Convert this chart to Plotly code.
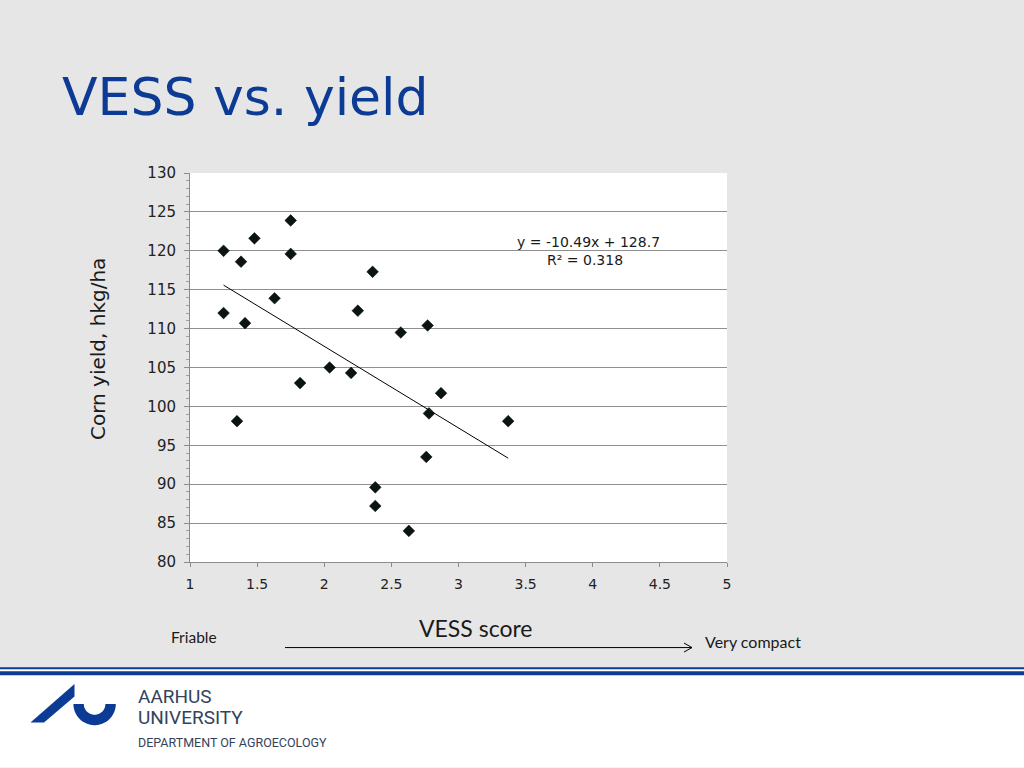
import numpy as np
import plotly.graph_objects as go

# ---- data ----
vess_score = [1.25, 1.25, 1.38, 1.48, 1.41, 1.35, 1.75, 1.75, 1.63, 1.82, 2.04, 2.20,
              2.25, 2.36, 2.38, 2.38, 2.57, 2.63, 2.77, 2.76, 2.78, 2.87, 3.37]
corn_yield = [120.0, 112.0, 118.6, 121.6, 110.7, 98.1, 123.9, 119.6, 113.9, 103.0, 105.0, 104.3,
              112.3, 117.3, 89.6, 87.2, 109.5, 84.0, 110.4, 93.5, 99.1, 101.7, 98.1]
trend_slope = -10.49
trend_intercept = 128.7
trend_r2 = 0.318
x_ticks = [1, 1.5, 2, 2.5, 3, 3.5, 4, 4.5, 5]
y_ticks = [80, 85, 90, 95, 100, 105, 110, 115, 120, 125, 130]

# ---- pixel -> paper helpers for slide decorations ----
L, R, T, B = 190, 727, 172.7, 562.3
def px(x):
    return (x - L) / (R - L)
def py(y):
    return (B - y) / (B - T)

BLUE = "#0b3b95"
BG = "#e6e6e6"

fig = go.Figure()

# trendline
tx = np.array([min(vess_score), max(vess_score)])
fig.add_trace(go.Scatter(x=tx, y=trend_slope * tx + trend_intercept, mode="lines",
                         line=dict(color="black", width=1), hoverinfo="skip", showlegend=False))
# points
fig.add_trace(go.Scatter(x=vess_score, y=corn_yield, mode="markers",
                         marker=dict(symbol="diamond", size=9, color="#0a1414",
                                     line=dict(color="#000000", width=0.5)),
                         showlegend=False))

shapes = []
# white lower band + blue rules
shapes.append(dict(type="rect", xref="paper", yref="paper", x0=px(0), x1=px(1024),
                   y0=py(768), y1=py(669.5), fillcolor="white", line=dict(width=0), layer="below"))
shapes.append(dict(type="rect", xref="paper", yref="paper", x0=px(0), x1=px(1024),
                   y0=py(669.7), y1=py(667.7), fillcolor=BLUE, line=dict(width=0)))
shapes.append(dict(type="rect", xref="paper", yref="paper", x0=px(0), x1=px(1024),
                   y0=py(675.8), y1=py(671.7), fillcolor=BLUE, line=dict(width=0)))

# arrow under x axis
shapes.append(dict(type="line", xref="paper", yref="paper", x0=px(285), x1=px(692),
                   y0=py(648), y1=py(648), line=dict(color="black", width=1)))
shapes.append(dict(type="line", xref="paper", yref="paper", x0=px(684), x1=px(692),
                   y0=py(643.5), y1=py(648), line=dict(color="black", width=1)))
shapes.append(dict(type="line", xref="paper", yref="paper", x0=px(684), x1=px(692),
                   y0=py(652.5), y1=py(648), line=dict(color="black", width=1)))

# logo: slash
slash = [(30.5, 723), (44, 723), (74.5, 697), (74.5, 684.5)]
path = "M " + " L ".join(f"{px(a):.5f},{py(b):.5f}" for a, b in slash) + " Z"
shapes.append(dict(type="path", xref="paper", yref="paper", path=path,
                   fillcolor=BLUE, line=dict(width=0)))
# logo: U half ring
cx, cy, ro, ri = 94.6, 704.5, 21.2, 10.8
ang = np.linspace(0, np.pi, 40)
outer = [(cx + ro * np.cos(a), cy + ro * np.sin(a)) for a in ang]
inner = [(cx + ri * np.cos(a), cy + ri * np.sin(a)) for a in ang[::-1]]
pts = outer + inner
path = "M " + " L ".join(f"{px(a):.5f},{py(b):.5f}" for a, b in pts) + " Z"
shapes.append(dict(type="path", xref="paper", yref="paper", path=path,
                   fillcolor=BLUE, line=dict(width=0)))

annotations = []
def txt(text, x, y, size, family, color="#1a1a1a", xanchor="left", yanchor="middle", angle=0):
    annotations.append(dict(text=text, x=px(x), y=py(y), xref="paper", yref="paper",
                            xanchor=xanchor, yanchor=yanchor, showarrow=False, textangle=angle,
                            font=dict(size=size, family=family, color=color)))

txt("VESS vs. yield", 60, 97, 52, "DejaVu Sans", color=BLUE)
txt(f"y = {trend_slope}x + {trend_intercept}", 588, 242, 14, "DejaVu Sans", xanchor="center")
txt(f"R² = {trend_r2}", 585, 260, 14, "DejaVu Sans", xanchor="center")
txt("Corn yield, hkg/ha", 98, 349, 20, "DejaVu Sans", xanchor="center", angle=-90)
txt("VESS score", 476, 628, 23, "Lato", xanchor="center")
txt("Friable", 169, 637, 15.5, "Lato")
txt("Very compact", 703, 642, 16, "Lato")
txt("AARHUS", 136, 697, 19, "Roboto", color="#34435a")
txt("UNIVERSITY", 136, 718, 19, "Roboto", color="#34435a")
txt("DEPARTMENT OF AGROECOLOGY", 136, 743, 12.5, "Roboto", color="#34435a")

fig.update_layout(
    width=1024, height=768, autosize=False,
    margin=dict(l=L, r=1024 - R, t=T, b=768 - B, pad=0),
    paper_bgcolor=BG, plot_bgcolor="white",
    shapes=shapes, annotations=annotations,
    font=dict(family="DejaVu Sans", color="#333333", size=13),
    xaxis=dict(range=[1, 5], tickvals=x_ticks, ticktext=[f"{v:g}" for v in x_ticks],
               showgrid=False, zeroline=False, showline=True, linecolor="#8c8c8c", linewidth=1,
               ticks="outside", ticklen=4, tickcolor="#8c8c8c", ticklabelstandoff=5,
               tickfont=dict(size=14, family="DejaVu Sans", color="#222222")),
    yaxis=dict(range=[80, 130], tickvals=y_ticks, showgrid=True, gridcolor="#8f8f8f", gridwidth=1,
               zeroline=False, showline=True, linecolor="#8c8c8c", linewidth=1,
               ticks="outside", ticklen=5, tickcolor="#8c8c8c", ticklabelstandoff=5,
               minor=dict(dtick=1, ticks="outside", ticklen=3, tickcolor="#a0a0a0", showgrid=False),
               tickfont=dict(size=15, family="DejaVu Sans", color="#222222")),
)

fig.write_html("out.html", config={"displayModeBar": False},
               post_script="document.body.style.margin='0';")
